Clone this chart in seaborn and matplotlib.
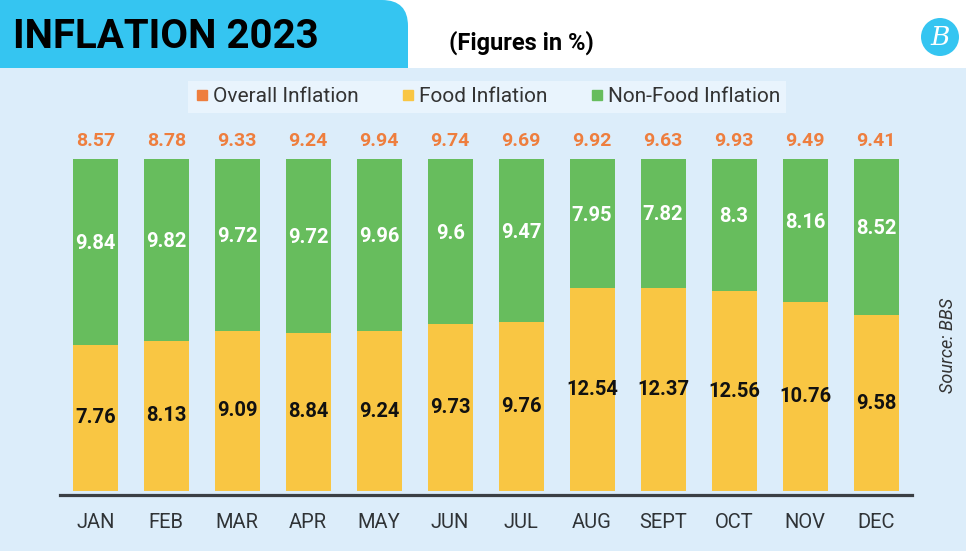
import matplotlib
matplotlib.use("Agg")
import matplotlib.pyplot as plt
from matplotlib.patches import FancyBboxPatch, Rectangle, Circle
from matplotlib.lines import Line2D
import seaborn as sns

months = ["JAN", "FEB", "MAR", "APR", "MAY", "JUN", "JUL", "AUG", "SEPT", "OCT", "NOV", "DEC"]
overall = [8.57, 8.78, 9.33, 9.24, 9.94, 9.74, 9.69, 9.92, 9.63, 9.93, 9.49, 9.41]
food = [7.76, 8.13, 9.09, 8.84, 9.24, 9.73, 9.76, 12.54, 12.37, 12.56, 10.76, 9.58]
nonfood = [9.84, 9.82, 9.72, 9.72, 9.96, 9.6, 9.47, 7.95, 7.82, 8.3, 8.16, 8.52]

BLUE = "#35c5f1"
BG = "#dcedfa"
LEG_BG = "#e9f4fd"
GREEN = "#67bd5d"
YELLOW = "#f9c643"
ORANGE = "#ee7e3e"

sns.set_theme(style="white")
plt.rcParams["font.family"] = ["Roboto", "DejaVu Sans"]

W, H = 9.66, 5.51
fig = plt.figure(figsize=(W, H), dpi=100)
fig.patch.set_facecolor("white")

# header box (rounded top-right corner)
hdr = FancyBboxPatch((-0.5, H - 0.68 - 0.5), 0.5 + 4.08, 0.68 + 0.5,
                     boxstyle="round,pad=0,rounding_size=0.26",
                     transform=fig.dpi_scale_trans, facecolor=BLUE, edgecolor="none", zorder=0)
fig.add_artist(hdr)
bgrect = Rectangle((0, 0), W, H - 0.68, transform=fig.dpi_scale_trans,
                   facecolor=BG, edgecolor="none", zorder=0.5)
fig.add_artist(bgrect)

fig.text(0.13, H - 0.37, "INFLATION 2023", transform=fig.dpi_scale_trans,
         fontsize=29, fontweight="bold", color="black", va="center", ha="left")
fig.text(4.49, H - 0.43, "(Figures in %)", transform=fig.dpi_scale_trans,
         fontsize=17, fontweight="bold", color="black", va="center", ha="left")

# logo
fig.add_artist(Circle((9.40, H - 0.37), 0.19, transform=fig.dpi_scale_trans,
                      facecolor=BLUE, edgecolor="none", zorder=2))
fig.text(9.405, H - 0.375, "B", transform=fig.dpi_scale_trans, fontsize=19,
         family="DejaVu Serif", style="italic", color="white", ha="center", va="center", zorder=3)

# main axes
ax = fig.add_axes([60 / 966, (551 - 491) / 551, 852 / 966, 332 / 551])
ax.set_facecolor("none")
ax.set_zorder(2)

totals = [f + n for f, n in zip(food, nonfood)]
full = [t / t for t in totals]
food_frac = [f / t for f, t in zip(food, totals)]

sns.barplot(x=months, y=full, color=GREEN, saturation=1, width=0.634, ax=ax,
            zorder=2, linewidth=0, edgecolor="none")
sns.barplot(x=months, y=food_frac, color=YELLOW, saturation=1, width=0.634, ax=ax,
            zorder=3, linewidth=0, edgecolor="none")

ax.set_xlim(-0.497, 11.507)
ax.set_ylim(0, 1)
ax.set_yticks([])
ax.set_xlabel("")
ax.set_ylabel("")
for s in ["top", "left", "right"]:
    ax.spines[s].set_visible(False)
ax.spines["bottom"].set_color("#3a3f44")
ax.spines["bottom"].set_linewidth(2.3)
ax.spines["bottom"].set_position(("outward", 3))
ax.spines["bottom"].set_zorder(5)
ax.tick_params(axis="x", length=0, pad=13, labelsize=14.5, labelcolor="#2f3336")

for i in range(len(months)):
    ff = food_frac[i]
    ax.text(i, 1.055, f"{overall[i]}", ha="center", va="center", fontsize=14,
            fontweight="bold", color=ORANGE)
    ax.text(i, (1 + ff) / 2 + 0.025, f"{nonfood[i]}", ha="center", va="center",
            fontsize=14.5, fontweight="bold", color="white", zorder=6)
    ax.text(i, ff / 2, f"{food[i]}", ha="center", va="center",
            fontsize=14.5, fontweight="bold", color="#111111", zorder=6)

# legend
handles = [Line2D([], [], marker="s", linestyle="none", markersize=7, color=c)
           for c in [ORANGE, YELLOW, GREEN]]
leg = fig.legend(handles, ["Overall Inflation", "Food Inflation", "Non-Food Inflation"],
                 loc="center", bbox_to_anchor=(487 / 966, 1 - 97 / 551), ncol=3,
                 frameon=True, fancybox=False, fontsize=15, handletextpad=0.1,
                 columnspacing=2.0, borderpad=0.3, handlelength=0.8)
leg.get_frame().set_facecolor(LEG_BG)
leg.get_frame().set_edgecolor("none")
leg.get_frame().set_alpha(1)
for t in leg.get_texts():
    t.set_color("#333333")
leg.set_zorder(3)

fig.text(9.48, H - 3.45, "Source: BBS", transform=fig.dpi_scale_trans, rotation=90,
         fontsize=13, style="italic", color="#333333", ha="center", va="center", zorder=3)

fig.savefig("out.png", dpi=100)
